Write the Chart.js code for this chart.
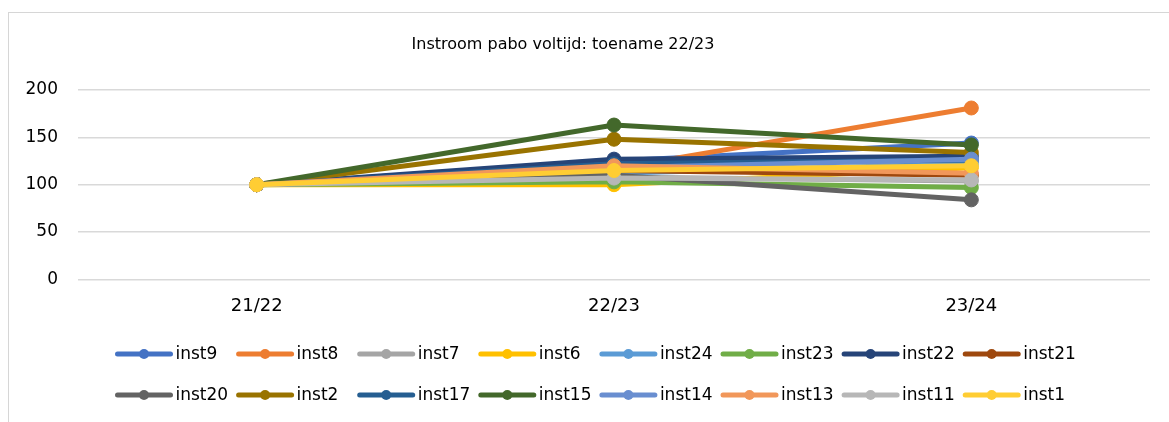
<!DOCTYPE html>
<html>
<head>
<meta charset="utf-8">
<script src="https://cdn.jsdelivr.net/npm/chart.js@4"></script>
<style>
  html, body { margin: 0; padding: 0; background: #fff; }
  #wrap { position: relative; width: 1169px; height: 422px; overflow: hidden; }
  #frame { position: absolute; left: 8px; top: 12px; width: 1300px; height: 600px; border: 1px solid #d6d6d6; box-sizing: border-box; pointer-events: none; }
  canvas { position: absolute; left: 0; top: 0; }
</style>
</head>
<body>
<div id="wrap">
  <canvas id="c" width="1169" height="422"></canvas>
  <div id="frame"></div>
</div>
<script>
const categories = ['21/22', '22/23', '23/24'];
const seriesNames = ['inst9','inst8','inst7','inst6','inst24','inst23','inst22','inst21',
                     'inst20','inst2','inst17','inst15','inst14','inst13','inst11','inst1'];
const inst9  = [100, 125, 144];
const inst8  = [100, 117, 181];
const inst7  = [100, 108, 104];
const inst6  = [100, 100, 118];
const inst24 = [100, 112, 122];
const inst23 = [100, 103, 97];
const inst22 = [100, 127, 130];
const inst21 = [100, 115, 110];
const inst20 = [100, 110, 84];
const inst2  = [100, 148, 134];
const inst17 = [100, 122, 126];
const inst15 = [100, 163, 142];
const inst14 = [100, 118, 127];
const inst13 = [100, 120, 112];
const inst11 = [100, 107, 105];
const inst1  = [100, 115, 120];
const seriesValues = [inst9, inst8, inst7, inst6, inst24, inst23, inst22, inst21,
                      inst20, inst2, inst17, inst15, inst14, inst13, inst11, inst1];
const colors = ['#4472C4','#ED7D31','#A5A5A5','#FFC000','#5B9BD5','#70AD47','#264478','#9E480E',
                '#636363','#997300','#255E91','#43682B','#698ED0','#F1975A','#B7B7B7','#FFCD33'];
const yTicks = [0, 50, 100, 150, 200];
const titleText = 'Instroom pabo voltijd: toename 22/23';

const FONT = '"DejaVu Sans", sans-serif';

const legendPlugin = {
  id: 'gridLegend',
  afterDraw(chart) {
    const ctx = chart.ctx;
    ctx.save();
    ctx.fillStyle = '#000';
    ctx.font = '16px ' + FONT;
    ctx.textBaseline = 'middle';
    ctx.textAlign = 'center';
    ctx.fillText(titleText, 563, 45);
    const n = chart.data.datasets.length;
    for (let i = 0; i < n; i++) {
      const ds = chart.data.datasets[i];
      const col = i % 8, row = Math.floor(i / 8);
      const x0 = 115.5 + col * 121.1;
      const y = 354 + row * 41;
      ctx.strokeStyle = ds.borderColor;
      ctx.lineWidth = 5;
      ctx.lineCap = 'round';
      ctx.beginPath();
      ctx.moveTo(x0 + 2, y);
      ctx.lineTo(x0 + 55, y);
      ctx.stroke();
      ctx.fillStyle = ds.borderColor;
      ctx.beginPath();
      ctx.arc(x0 + 28.5, y, 5, 0, Math.PI * 2);
      ctx.fill();
      ctx.fillStyle = '#000';
      ctx.font = '17px ' + FONT;
      ctx.textBaseline = 'middle';
      ctx.textAlign = 'left';
      ctx.fillText(ds.label, x0 + 60, y + 1);
    }
    ctx.restore();
  }
};

new Chart(document.getElementById('c'), {
  type: 'line',
  data: {
    labels: categories,
    datasets: seriesNames.map((name, i) => ({
      label: name,
      data: seriesValues[i],
      order: seriesNames.length - 1 - i,
      borderColor: colors[i],
      backgroundColor: colors[i],
      borderWidth: 5,
      borderCapStyle: 'round',
      borderJoinStyle: 'round',
      pointRadius: 7,
      pointBorderWidth: 1,
      pointBorderColor: colors[i],
      pointBackgroundColor: colors[i],
      tension: 0,
      fill: false,
      clip: false
    }))
  },
  options: {
    responsive: false,
    animation: false,
    devicePixelRatio: 1,
    layout: { padding: { left: 0, right: 19, top: 90, bottom: 97 } },
    plugins: {
      legend: { display: false },
      tooltip: { enabled: false },
      title: { display: false }
    },
    scales: {
      x: {
        offset: true,
        grid: { display: false },
        border: { display: false },
        ticks: { color: '#000', font: { family: FONT, size: 18 }, padding: 8, maxRotation: 0 }
      },
      y: {
        min: 0, max: 200,
        afterBuildTicks(scale) { scale.ticks = yTicks.map(v => ({ value: v })); },
        afterFit(scale) { scale.width = 78; },
        grid: { color: '#d9d9d9', lineWidth: 1.5, drawTicks: false },
        border: { display: false },
        ticks: { color: '#000', font: { family: FONT, size: 17 }, padding: 20 }
      }
    }
  },
  plugins: [legendPlugin]
});
</script>
</body>
</html>
